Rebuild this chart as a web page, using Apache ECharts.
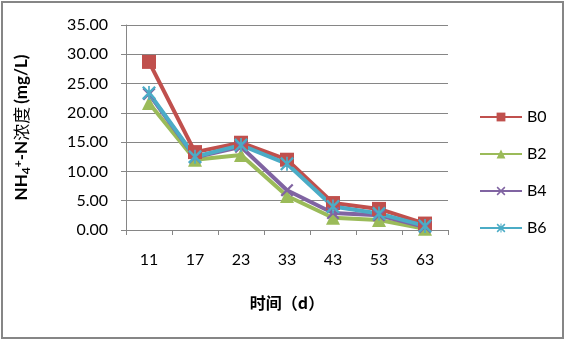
<!DOCTYPE html>
<html>
<head>
<meta charset="utf-8">
<script src="https://cdn.jsdelivr.net/npm/echarts@6/dist/echarts.min.js"></script>
<style>
  html, body { margin: 0; padding: 0; background: #fff; }
  #chart { width: 566px; height: 342px; }
</style>
</head>
<body>
<div id="chart"></div>
<script>
// 数据
var days = ['11', '17', '23', '33', '43', '53', '63'];
var b0 = [28.7, 13.3, 14.9, 12.0, 4.6, 3.6, 1.1];
var b2 = [21.7, 12.0, 12.8, 5.8, 2.1, 1.7, 0.2];
var b4 = [23.2, 12.4, 14.2, 6.8, 2.9, 2.5, 0.5];
var b6 = [23.4, 12.5, 14.5, 11.3, 4.0, 2.8, 0.7];

var xMark = 'path://M0,1.2 L1.2,0 L10,8.8 L8.8,10 Z M8.8,0 L10,1.2 L1.2,10 L0,8.8 Z';
var starMark = 'path://M0,1.2 L1.2,0 L10,8.8 L8.8,10 Z M8.8,0 L10,1.2 L1.2,10 L0,8.8 Z M4.4,0 L5.6,0 L5.6,10 L4.4,10 Z';

var fontName = 'Lato';
var grey = '#868686';

function mkSeries(name, data, color, symbol, size) {
  return {
    name: name,
    type: 'line',
    data: data,
    symbol: symbol,
    symbolSize: size,
    symbolKeepAspect: true,
    lineStyle: { color: color, width: 4 },
    itemStyle: { color: color },
    emphasis: { disabled: true }
  };
}

var chart = echarts.init(document.getElementById('chart'));
chart.setOption({
  animation: false,
  backgroundColor: '#fff',
  textStyle: { fontFamily: fontName },
  grid: { left: 126, right: 118, top: 25, bottom: 112 },
  legend: {
    orient: 'vertical',
    left: 474,
    top: 104,
    itemWidth: 42,
    itemHeight: 11,
    itemGap: 21,
    textStyle: { fontSize: 16, color: '#000', fontFamily: fontName },
    data: ['B0', 'B2', 'B4', 'B6']
  },
  xAxis: {
    type: 'category',
    data: days,
    boundaryGap: true,
    name: '时间（d）',
    nameLocation: 'middle',
    nameGap: 65,
    nameTextStyle: { fontSize: 16, fontWeight: 'bold', color: '#000', fontFamily: 'Noto Sans CJK SC' },
    axisLine: { lineStyle: { color: grey, width: 1 } },
    axisTick: { show: true, length: 5, lineStyle: { color: grey } },
    axisLabel: { fontSize: 16, color: '#000', margin: 22 }
  },
  yAxis: {
    type: 'value',
    min: 0,
    max: 35,
    interval: 5,
    name: '{b|NH}{sub|4}{sup|+}{b|-N}{c|浓度} {b|(mg/L)}',
    nameLocation: 'middle',
    nameGap: 94,
    nameRotate: 90,
    nameTextStyle: {
      rich: {
        b: { fontSize: 17, fontWeight: 'bold', color: '#000', fontFamily: fontName },
        c: { fontSize: 17, color: '#000', fontFamily: 'Noto Sans CJK SC' },
        sub: { fontSize: 12, fontWeight: 'bold', color: '#000', fontFamily: fontName, verticalAlign: 'bottom', padding: [6, 0, 0, 0] },
        sup: { fontSize: 12, fontWeight: 'bold', color: '#000', fontFamily: fontName, verticalAlign: 'top', padding: [0, 0, 8, 0] }
      }
    },
    axisLine: { show: true, lineStyle: { color: grey, width: 1 } },
    axisTick: { show: true, length: 5, lineStyle: { color: grey } },
    splitLine: { lineStyle: { color: grey, width: 1 } },
    axisLabel: {
      fontSize: 16,
      color: '#000',
      margin: 18,
      formatter: function (v) { return v.toFixed(2); }
    }
  },
  series: [
    mkSeries('B0', b0, '#C0504D', 'rect', 14),
    mkSeries('B2', b2, '#9BBB59', 'triangle', 14),
    mkSeries('B4', b4, '#8064A2', xMark, 13),
    mkSeries('B6', b6, '#4BACC6', starMark, 14)
  ],
  graphic: [{
    type: 'rect',
    shape: { x: 2, y: 2, width: 561, height: 336 },
    style: { fill: 'none', stroke: grey, lineWidth: 2 },
    silent: true
  }]
});
</script>
</body>
</html>
